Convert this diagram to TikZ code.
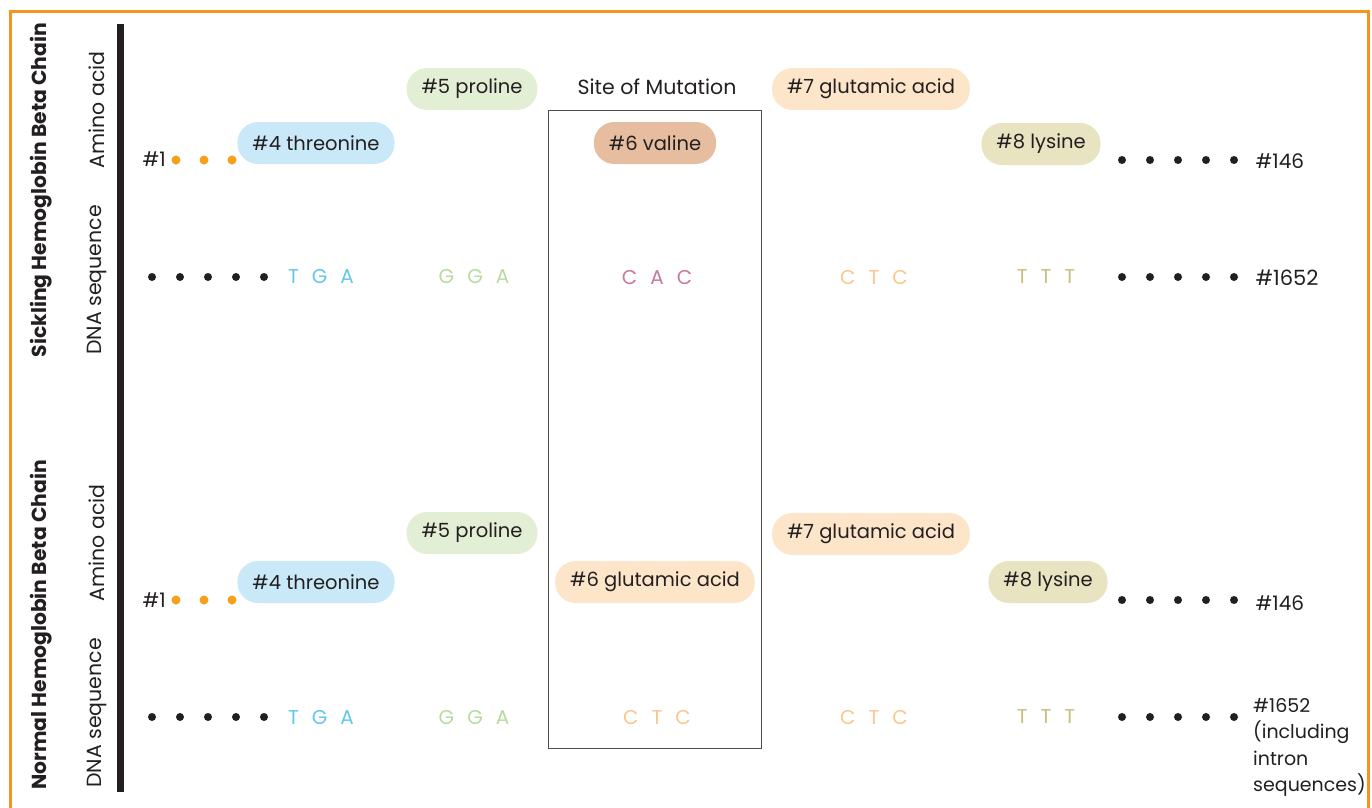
\documentclass[tikz,border=0pt]{standalone}
\usepackage{fontspec}
\setmainfont{Poppins}
\definecolor{frameorange}{HTML}{F7941D}
\definecolor{ink}{HTML}{231F20}
\definecolor{dotorange}{HTML}{F5A01A}
\definecolor{pillblue}{HTML}{C9E9F8}
\definecolor{pillgreen}{HTML}{E2EFD5}
\definecolor{pillvaline}{HTML}{E7BDA0}
\definecolor{pillglu}{HTML}{FDE5CA}
\definecolor{pilllys}{HTML}{E8E4C2}
\definecolor{baseblue}{HTML}{62C6EF}
\definecolor{basegreen}{HTML}{B8DA9E}
\definecolor{basepink}{HTML}{C8779E}
\definecolor{baseorange}{HTML}{FBC68C}
\definecolor{baseolive}{HTML}{C8BE7C}
\newcommand{\codon}[3]{#1\hspace{13pt}#2\hspace{13pt}#3}
\begin{document}
\begin{tikzpicture}[x=1pt,y=-1pt,
  pill/.style={rounded corners=20.5pt, minimum height=42pt, inner xsep=15pt,
    font=\fontsize{19.5}{22}\selectfont, text=ink},
  lbl/.style={font=\fontsize{20}{23}\selectfont, text=ink},
  side/.style={rotate=90, font=\fontsize{20.5}{23}\selectfont, text=ink},
  title/.style={rotate=90, font=\fontsize{20.3}{23}\bfseries\selectfont, text=ink},
  dna/.style={font=\fontsize{20}{22}\selectfont},
  bdot/.style={circle, fill=ink, inner sep=0pt, minimum size=8pt},
  odot/.style={circle, fill=dotorange, inner sep=0pt, minimum size=9pt}]
\useasboundingbox (0,0) rectangle (1372,807);
\clip (0,0) rectangle (1372,807);

% open orange frame running off the lower edge
\draw[frameorange, line width=3pt] (10,830) -- (10,11) -- (1368,11) -- (1368,830);

% black divider bar
\fill[ink] (117,24) rectangle (124,792);

% row headings
\node[title] (tsick) at (41,190) {Sickling Hemoglobin Beta Chain};
\node[title] (tnorm) at (41,625) {Normal Hemoglobin Beta Chain};
\node[side] (aa1) at (97,110) {Amino acid};
\node[side] (dna1) at (97,280) {DNA sequence};
\node[side] (aa2) at (97,543) {Amino acid};
\node[side] (dna2) at (97,713) {DNA sequence};

% site of mutation box
\node[lbl, font=\fontsize{20.5}{23}\selectfont] (site) at (657,87) {Site of Mutation};
\draw[ink!80, line width=1pt] (548,110) rectangle (761,748);

% ---------- sickling chain ----------
\node[lbl, anchor=base west] (s1) at (139,166) {\#1};
\foreach \i/\x in {1/176,2/204,3/232} \node[odot] (so\i) at (\x,160) {};
\node[pill, fill=pillblue] (s4) at (316,143) {\#4 threonine};
\node[pill, fill=pillgreen] (s5) at (472,89) {\#5 proline};
\node[pill, fill=pillvaline] (s6) at (655,143) {\#6 valine};
\node[pill, fill=pillglu] (s7) at (871,89) {\#7 glutamic acid};
\node[pill, fill=pilllys] (s8) at (1041,144) {\#8 lysine};
\foreach \i/\x in {1/1122,2/1150,3/1178,4/1206,5/1234} \node[bdot] (se\i) at (\x,160) {};
\node[lbl, anchor=base west] (s146) at (1252,168) {\#146};

\foreach \i/\x in {1/152,2/180,3/208,4/236,5/264} \node[bdot] (sd\i) at (\x,277) {};
\node[dna, text=baseblue] (sTGA) at (321,277) {\codon TGA};
\node[dna, text=basegreen] (sGGA) at (474,277) {\codon GGA};
\node[dna, text=basepink] (sCAC) at (657,277) {\codon CAC};
\node[dna, text=baseorange] (sCTC) at (874,277) {\codon CTC};
\node[dna, text=baseolive] (sTTT) at (1046,277) {\codon TTT};
\foreach \i/\x in {1/1122,2/1150,3/1178,4/1206,5/1234} \node[bdot] (sf\i) at (\x,277) {};
\node[lbl, anchor=base west, font=\fontsize{21}{24}\selectfont] (s1652) at (1252,285) {\#1652};

% ---------- normal chain ----------
\node[lbl, anchor=base west] (n1) at (139,607) {\#1};
\foreach \i/\x in {1/176,2/204,3/232} \node[odot] (no\i) at (\x,600) {};
\node[pill, fill=pillblue] (n4) at (316,582) {\#4 threonine};
\node[pill, fill=pillgreen] (n5) at (472,533) {\#5 proline};
\node[pill, fill=pillglu] (n6) at (655,582) {\#6 glutamic acid};
\node[pill, fill=pillglu] (n7) at (871,534) {\#7 glutamic acid};
\node[pill, fill=pilllys] (n8) at (1048,582) {\#8 lysine};
\foreach \i/\x in {1/1122,2/1150,3/1178,4/1206,5/1234} \node[bdot] (ne\i) at (\x,600) {};
\node[lbl, anchor=base west] (n146) at (1252,610) {\#146};

\foreach \i/\x in {1/152,2/180,3/208,4/236,5/264} \node[bdot] (nd\i) at (\x,717) {};
\node[dna, text=baseblue] (nTGA) at (321,717) {\codon TGA};
\node[dna, text=basegreen] (nGGA) at (474,717) {\codon GGA};
\node[dna, text=baseorange] (nCTC) at (657,717) {\codon CTC};
\node[dna, text=baseorange] (nCTC2) at (874,717) {\codon CTC};
\node[dna, text=baseolive] (nTTT) at (1046,717) {\codon TTT};
\foreach \i/\x in {1/1122,2/1150,3/1178,4/1206,5/1234} \node[bdot] (nf\i) at (\x,717) {};
\node[lbl, anchor=north west, align=left, inner sep=0pt,
  font=\fontsize{19}{26.5}\selectfont] (n1652) at (1253,698)
  {\#1652\\(including\\intron\\sequences)};
\end{tikzpicture}
\end{document}
